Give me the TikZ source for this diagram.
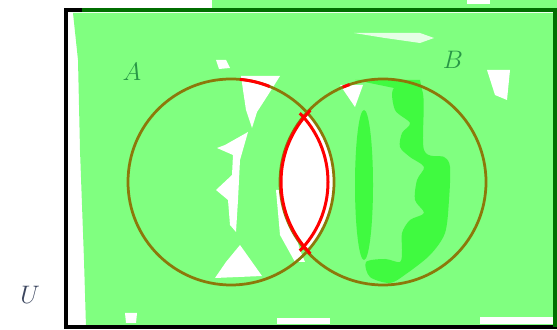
\documentclass[tikz,border=0pt]{standalone}
\definecolor{verdeclaro}{RGB}{128,255,128}
\definecolor{verdevivo}{RGB}{64,250,64}
\definecolor{oliva}{RGB}{140,120,10}
\definecolor{verdeoscuro}{RGB}{0,110,0}
\definecolor{verdetexto}{RGB}{40,150,70}
\definecolor{grisazul}{RGB}{60,70,95}
\begin{document}
\begin{tikzpicture}[x=0.02cm,y=-0.02cm,
  circulo/.style={draw=oliva,line width=0.055cm},
  lente/.style={draw=red,line width=0.06cm},
  mancha/.style={fill=white},
  etiqueta/.style={text=verdetexto,font=\fontsize{14}{16}\selectfont}]
  \useasboundingbox (0,0) rectangle (557,330);
  \coordinate (cA) at (231,182);
  \coordinate (cB) at (383,182);
  \fill[verdeclaro] (73,13) -- (557,13) -- (557,327) -- (86,327) -- (84,260) -- (80,150) -- (78,60) -- cycle;
  \fill[verdeclaro] (212,0) -- (557,0) -- (557,12) -- (212,12) -- cycle;
  \fill[white] (467,0) rectangle (490,4);
  \fill[white] (277,318) rectangle (330,324);
  \fill[white] (480,317) rectangle (557,324);
  \fill[white] (125,313) -- (137,313) -- (136,323) -- (126,323) -- cycle;
  \fill[white,opacity=.8] (354,33) -- (420,33) -- (434,38) -- (420,43) -- (385,38) -- cycle;
  \foreach \forma in {
      {(241,76) -- (280,76) -- (268,95) -- (257,112) -- (252,128) -- (246,110) -- (243,90)},
      {(248,132) -- (225,145) -- (217,148) -- (233,155) -- (232,175) -- (216,190) -- (228,200) -- (230,225) -- (236,232) -- (238,200) -- (240,160)},
      {(240,245) -- (262,276) -- (215,278) -- (226,262)},
      {(276,190) -- (282,190) -- (300,250) -- (305,262) -- (295,262) -- (280,235)},
      {(340,85) -- (363,85) -- (355,107)},
      {(487,70) -- (510,70) -- (507,100) -- (495,95)},
      {(216,60) -- (226,60) -- (230,68) -- (219,69)}}
    \fill[mancha] \forma -- cycle;
  \fill[verdevivo] (364,185) ellipse (9 and 75);
  \fill[verdevivo] plot[smooth cycle] coordinates {(394,88) (395,110) (410,123) (402,133)
    (400,147) (410,157) (424,167) (417,180) (415,200) (424,213) (410,220) (402,233)
    (402,250) (400,262) (385,259) (366,262) (370,277) (390,283) (406,274) (430,255)
    (445,233) (449,200) (450,167) (444,157) (424,150) (422,90)};
  \fill[verdevivo] (355,80) -- (420,80) -- (422,90) -- (394,88) -- cycle;
  \begin{scope}
    \clip (cA) circle (103);
    \fill[white] (cB) circle (103);
  \end{scope}
  \draw[line width=0.08cm] (66,10) rectangle (555,327);
  \draw[verdeoscuro,line width=0.08cm] (82,10) -- (555,10) -- (555,327);
  \draw[circulo] (cA) circle (103);
  \draw[circulo] (cB) circle (103);
  \begin{scope}
    \clip (cA) circle (107);
    \draw[lente] (cB) circle (102);
  \end{scope}
  \begin{scope}
    \clip (cB) circle (108);
    \draw[lente] (230,182) circle (98);
  \end{scope}
  \draw[lente] (cA) ++(-85:103) arc[start angle=-85,end angle=-68,radius=103];
  \draw[lente] (cB) ++(-113:103) arc[start angle=-113,end angle=-109,radius=103];
  \foreach \nombre/\pos in {A/{(132,72)},B/{(453,60)}}
    \node[etiqueta] (\nombre) at \pos {$\nombre$};
  \node[etiqueta,text=grisazul] (U) at (30,295) {$U$};
\end{tikzpicture}
\end{document}
